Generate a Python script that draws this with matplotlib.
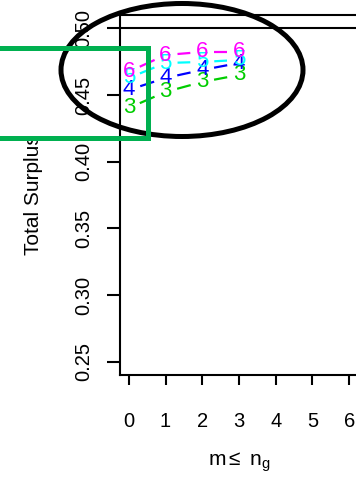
import numpy as np
import matplotlib
matplotlib.use('Agg')
import matplotlib.pyplot as plt
from matplotlib.patches import Ellipse, Rectangle

plt.rcParams['font.family'] = ['Liberation Sans', 'DejaVu Sans']
plt.rcParams['mathtext.fontset'] = 'custom'
plt.rcParams['mathtext.rm'] = 'Liberation Sans'
plt.rcParams['mathtext.it'] = 'Liberation Sans'

# data
m_vals = [0, 1, 2, 3]
series_labels = ['3', '4', '5', '6']
series_colors = ['#00CD00', '#0000FF', '#00FFFF', '#FF00FF']
surplus_3 = [0.4403, 0.4523, 0.4598, 0.4650]
surplus_4 = [0.4538, 0.4628, 0.4688, 0.4740]
surplus_5 = [0.4628, 0.4740, 0.4748, 0.4763]
surplus_6 = [0.4675, 0.4800, 0.4823, 0.4823]
yticks = [0.25, 0.30, 0.35, 0.40, 0.45, 0.50]
xticks = [0, 1, 2, 3, 4, 5, 6]

W, H = 356, 483
fig = plt.figure(figsize=(W / 100, H / 100), dpi=100)
ax = fig.add_axes([120 / W, (H - 375) / H, 238 / W, 360 / H])
ax.set_xlim(-0.24, 6.24)
ax.set_ylim(0.24, 0.51)

for s in ['left', 'bottom', 'top']:
    ax.spines[s].set_linewidth(1.5)
ax.spines['right'].set_visible(False)

ax.set_yticks(yticks)
ax.set_yticklabels(['%.2f' % v for v in yticks], rotation=90, va='center')
ax.set_xticks(xticks)
ax.set_xticklabels([str(v) for v in xticks])
ax.tick_params(axis='y', length=9.5, width=1.5, pad=10, labelsize=14.5)
ax.tick_params(axis='x', length=7.5, width=1.5, pad=19, labelsize=14.5)
ax.set_ylabel('Total Surplus', fontsize=15, labelpad=22)
ax.set_xlabel(r'm$\leq$ n$_\mathregular{g}$', fontsize=15, labelpad=14)

ax.axhline(0.50, color='black', lw=1.5)

series = [surplus_3, surplus_4, surplus_5, surplus_6]
gap = 12  # pixels
for vals, lab, col in zip(series, series_labels, series_colors):
    pts = ax.transData.transform(np.column_stack([m_vals, vals]))
    for i in range(len(pts) - 1):
        p0, p1 = pts[i], pts[i + 1]
        d = p1 - p0
        L = np.hypot(*d)
        if L <= 2 * gap:
            continue
        u = d / L
        a = ax.transData.inverted().transform([p0 + u * gap, p1 - u * gap])
        ax.plot(a[:, 0], a[:, 1], color=col, lw=1.6, solid_capstyle='butt')
    for x, y in zip(m_vals, vals):
        ax.text(x, y, lab, color=col, fontsize=16, ha='center', va='center')

# annotations
ell = Ellipse((182 / W, 1 - 70 / H), 242 / W, 133 / H, transform=fig.transFigure,
              fill=False, edgecolor='black', lw=3.6)
fig.patches.append(ell)
rect = Rectangle((-5 / W, 1 - 138 / H), 153 / W, 90 / H, transform=fig.transFigure,
                 fill=False, edgecolor='#00B050', lw=3.6)
fig.patches.append(rect)

fig.savefig('out.png', dpi=100)
